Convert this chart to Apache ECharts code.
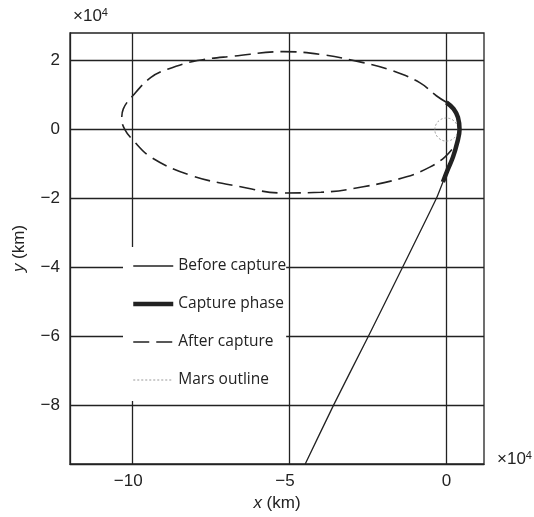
<!DOCTYPE html>
<html>
<head>
<meta charset="utf-8">
<script src="https://cdn.jsdelivr.net/npm/echarts@6/dist/echarts.min.js"></script>
<style>html,body{margin:0;padding:0;background:#fff;}#c{width:534px;height:517px;}</style>
</head>
<body>
<div id="c"></div>
<script>
// values in units of 10^4 km
const xTicks = [-10, -5, 0];
const yTicks = [-8, -6, -4, -2, 0, 2];

const beforeX = [-4.50, -3.60, -2.49, -1.40, -0.32, -0.11];
const beforeY = [-9.70, -8.00, -6.00, -4.00, -2.00, -1.52];

const captureX = [-0.11, 0.05, 0.21, 0.34, 0.42, 0.37, 0.23, 0.00];
const captureY = [-1.52, -1.15, -0.80, -0.40, 0.00, 0.35, 0.60, 0.79];

const afterX = [0.00, -0.32, -0.85, -1.70, -2.65, -4.02, -5.20, -6.77, -7.94, -8.89, -9.42, -10.00, -10.30, -10.35, -10.25, -10.00, -9.42, -8.15, -6.56, -5.20, -4.00, -2.65, -1.27, -0.53, -0.05, 0.32];
const afterY = [0.79, 0.98, 1.36, 1.70, 1.94, 2.18, 2.26, 2.13, 2.00, 1.75, 1.51, 0.98, 0.60, 0.30, 0.00, -0.30, -0.80, -1.33, -1.66, -1.84, -1.82, -1.66, -1.37, -1.09, -0.80, -0.41];

const marsCenterX = [0];
const marsCenterY = [0];
const marsRadius = [0.35];

const legendNames = ['Before capture', 'Capture phase', 'After capture', 'Mars outline'];

function zip(a, b) { return a.map((v, i) => [v, b[i]]); }

const ink = '#222';
const chart = echarts.init(document.getElementById('c'), null, {renderer: 'canvas'});

function fmtX(v) {
  if (v < 0) return '{a|\u2212' + Math.abs(v) + '}';
  return String(v);
}
function fmtY(v) {
  return v < 0 ? '\u2212' + Math.abs(v) : String(v);
}

chart.setOption({
  animation: false,
  backgroundColor: '#fff',
  grid: {left: 70, top: 33, width: 414, height: 432, show: true, borderColor: ink, borderWidth: 1.3, containLabel: false},
  xAxis: {
    type: 'value', min: -12, max: 1.2,
    name: '{i|x} (km)', nameLocation: 'middle', nameGap: 31,
    nameTextStyle: {fontFamily: 'Liberation Sans', fontSize: 17, color: ink, rich: {i: {fontStyle: 'italic', fontFamily: 'Liberation Sans', fontSize: 17, color: ink}}},
    axisLine: {show: true, onZero: false, lineStyle: {color: ink, width: 1.3}},
    axisTick: {show: false, customValues: xTicks},
    axisLabel: {customValues: xTicks, formatter: fmtX, margin: 9, fontFamily: 'Liberation Sans', fontSize: 17, color: ink,
      rich: {a: {fontFamily: 'Liberation Sans', fontSize: 17, color: ink, padding: [0, 9, 0, 0]}}},
    splitLine: {show: true, lineStyle: {color: ink, width: 1.3}}
  },
  yAxis: {
    type: 'value', min: -9.7, max: 2.8,
    name: '{i|y} (km)', nameLocation: 'middle', nameGap: 42, nameRotate: 90,
    nameTextStyle: {fontFamily: 'Liberation Sans', fontSize: 17, color: ink, rich: {i: {fontStyle: 'italic', fontFamily: 'Liberation Sans', fontSize: 17, color: ink}}},
    axisLine: {show: true, onZero: false, lineStyle: {color: ink, width: 1.3}},
    axisTick: {show: false, customValues: yTicks},
    axisLabel: {customValues: yTicks, formatter: fmtY, margin: 10, fontFamily: 'Liberation Sans', fontSize: 17, color: ink},
    splitLine: {show: true, lineStyle: {color: ink, width: 1.3}}
  },
  legend: {
    orient: 'vertical', left: 123, top: 247,
    padding: [11, 0, 13, 8],
    backgroundColor: '#fff',
    itemWidth: 40, itemHeight: 14, itemGap: 22,
    selectedMode: false,
    itemStyle: {opacity: 0},
    textStyle: {fontFamily: 'Open Sans', fontSize: 15.5, color: ink},
    data: [
      {name: legendNames[0], lineStyle: {width: 1.3}},
      {name: legendNames[1], lineStyle: {width: 4.5}},
      {name: legendNames[2], lineStyle: {width: 1.6, type: [16, 7]}},
      {name: legendNames[3], lineStyle: {width: 1, type: [2, 2]}}
    ]
  },
  graphic: [
    {type: 'text', left: 73, top: 7, style: {text: '\u00d710{s|4}', fontFamily: 'Liberation Sans', fontSize: 17, fill: ink,
      rich: {s: {fontSize: 11, fontFamily: 'Liberation Sans', verticalAlign: 'top', padding: [0, 0, 8, 0]}}}},
    {type: 'text', left: 497, top: 450, style: {text: '\u00d710{s|4}', fontFamily: 'Liberation Sans', fontSize: 17, fill: ink,
      rich: {s: {fontSize: 11, fontFamily: 'Liberation Sans', verticalAlign: 'top', padding: [0, 0, 8, 0]}}}}
  ],
  series: [
    {
      name: legendNames[0], type: 'line', data: zip(beforeX, beforeY), smooth: 0.2,
      symbol: 'none', clip: true, itemStyle: {color: ink}, lineStyle: {color: ink, width: 1.3}, z: 3
    },
    {
      name: legendNames[2], type: 'line', data: zip(afterX, afterY), smooth: 0.4,
      symbol: 'none', clip: true, itemStyle: {color: ink}, lineStyle: {color: ink, width: 1.6, type: [16, 7]}, z: 3
    },
    {
      name: legendNames[1], type: 'line', data: zip(captureX, captureY), smooth: 0.4,
      symbol: 'none', clip: true, itemStyle: {color: ink}, lineStyle: {color: ink, width: 4.5, cap: 'butt'}, z: 4
    },
    {
      name: legendNames[3], type: 'line', data: [],
      symbol: 'none', itemStyle: {color: '#999'}, lineStyle: {color: '#999', width: 1, type: [2, 2]}
    },
    {
      name: 'mars-circle', type: 'custom', z: 2,
      data: marsCenterX.map((x, i) => [x, marsCenterY[i], marsRadius[i]]),
      renderItem: function (params, api) {
        const c = api.coord([api.value(0), api.value(1)]);
        const s = api.size([api.value(2), api.value(2)]);
        return {
          type: 'circle',
          shape: {cx: c[0], cy: c[1], r: (s[0] + s[1]) / 2},
          style: {fill: null, stroke: '#999', lineWidth: 1, lineDash: [2, 2]}
        };
      }
    }
  ]
});
</script>
</body>
</html>
